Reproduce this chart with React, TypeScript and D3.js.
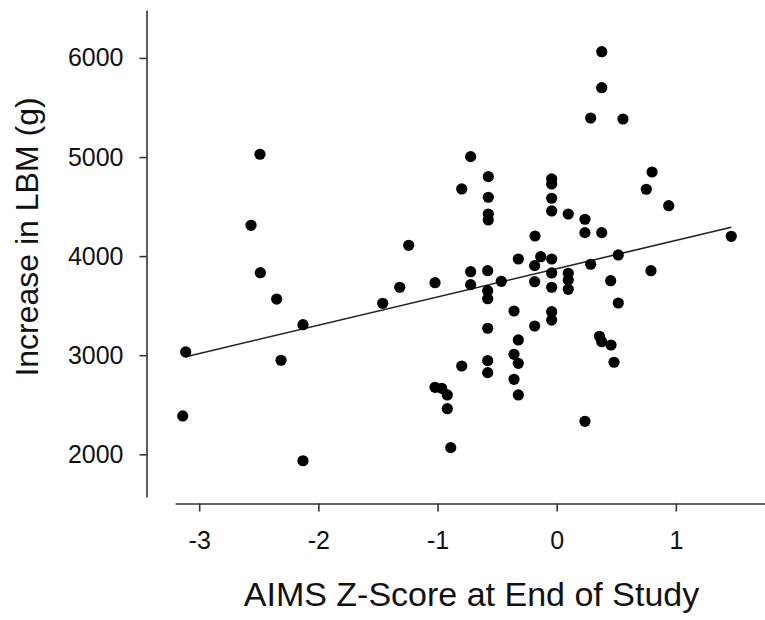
import React, { useEffect, useRef } from "react";
import * as d3 from "d3";

// AIMS z-score at end of study (x) and increase in lean body mass in g (y)
const aimsZ = [
  -2.49, -2.565, -1.242, 0.378, 0.378, 0.285, 0.556, -0.722, -0.574, -0.797,
  -0.574, -0.574, -0.574, -0.042, -0.042, -0.042, -0.042, 0.097, 0.8, 0.752,
  0.94, 0.237, 0.237, 0.378, -0.182, 1.465, -0.322, -0.134, -0.042, -0.185,
  -0.722, -0.579, -0.722, -0.465, -0.579, -0.579, -0.185, -0.042, -0.042, 0.097,
  0.097, 0.097, 0.285, 0.517, 0.453, 0.517, 0.791, -0.358, -0.042, -0.042,
  -0.185, -0.579, -0.322, 0.359, 0.378, 0.456, 0.481, -0.797, -0.579, -0.579,
  -0.358, -0.322, -0.358, -0.322, -1.021, -0.965, -0.918, -0.918, -0.889, 0.237,
  -2.487, -2.35, -2.129, -1.46, -1.317, -1.021, -3.113, -2.313, -3.138, -2.129,
];
const lbmIncrease = [
  5028, 4311, 4109, 6063, 5700, 5394, 5384, 5004, 4802, 4678,
  4594, 4425, 4365, 4779, 4728, 4584, 4456, 4425, 4849, 4675,
  4509, 4372, 4237, 4237, 4203, 4200, 3971, 3994, 3971, 3904,
  3843, 3853, 3712, 3746, 3651, 3570, 3742, 3830, 3686, 3827,
  3759, 3665, 3918, 4012, 3752, 3527, 3853, 3446, 3439, 3355,
  3295, 3272, 3154, 3191, 3136, 3103, 2929, 2891, 2945, 2824,
  3009, 2918, 2757, 2599, 2676, 2666, 2599, 2460, 2067, 2333,
  3833, 3567, 3308, 3524, 3686, 3732, 3033, 2949, 2387, 1935,
];
// fitted line as drawn in the figure
const fitSlope = 285.3;
const fitIntercept = 3873;
const fitRange = [-3.12, 1.465];

const xTicks = [-3, -2, -1, 0, 1];
const yTicks = [2000, 3000, 4000, 5000, 6000];

const width = 765;
const height = 620;
const font = "'Liberation Sans', Arial, sans-serif";

export default function App() {
  const ref = useRef<SVGSVGElement>(null);

  useEffect(() => {
    const svg = d3.select(ref.current);
    svg.selectAll("*").remove();

    const x = d3.scaleLinear().domain([-3.203, 1.748]).range([175, 765]);
    const y = d3.scaleLinear().domain([1569, 6484]).range([497, 10]);

    // x axis
    const gx = svg
      .append("g")
      .attr("transform", `translate(0,503.5)`)
      .call(
        d3
          .axisBottom(x)
          .tickValues(xTicks)
          .tickSizeInner(8)
          .tickSizeOuter(0)
          .tickPadding(20)
          .tickFormat(d3.format("d"))
      );
    gx.select(".domain").attr("stroke", "#333").attr("stroke-width", 1.6);
    gx.selectAll(".tick line").attr("stroke", "#333").attr("stroke-width", 1.6);
    gx.selectAll(".tick text")
      .attr("font-family", font)
      .attr("font-size", 25)
      .attr("fill", "#111")
      .text((d: any) => (d < 0 ? "-" + Math.abs(d) : String(d)));

    // y axis
    const gy = svg
      .append("g")
      .attr("transform", `translate(146.5,0)`)
      .call(
        d3
          .axisLeft(y)
          .tickValues(yTicks)
          .tickSizeInner(7)
          .tickSizeOuter(0)
          .tickPadding(16)
          .tickFormat(d3.format("d"))
      );
    gy.select(".domain").attr("stroke", "#333").attr("stroke-width", 1.6);
    gy.selectAll(".tick line").attr("stroke", "#333").attr("stroke-width", 1.6);
    gy.selectAll(".tick text")
      .attr("font-family", font)
      .attr("font-size", 25)
      .attr("fill", "#111");

    // regression line
    const line = d3
      .line<number>()
      .x((d) => x(d))
      .y((d) => y(fitIntercept + fitSlope * d));
    svg
      .append("path")
      .attr("d", line(fitRange))
      .attr("fill", "none")
      .attr("stroke", "#222")
      .attr("stroke-width", 1.6);

    // points
    svg
      .append("g")
      .selectAll("circle")
      .data(d3.range(aimsZ.length))
      .join("circle")
      .attr("cx", (i) => x(aimsZ[i]))
      .attr("cy", (i) => y(lbmIncrease[i]))
      .attr("r", 5.6)
      .attr("fill", "#000");

    // axis titles
    svg
      .append("text")
      .attr("x", 471.5)
      .attr("y", 605.5)
      .attr("text-anchor", "middle")
      .attr("font-family", font)
      .attr("font-size", 34)
      .attr("fill", "#111")
      .text("AIMS Z-Score at End of Study");

    svg
      .append("text")
      .attr("transform", "translate(38,237) rotate(-90)")
      .attr("text-anchor", "middle")
      .attr("font-family", font)
      .attr("font-size", 32)
      .attr("fill", "#111")
      .text("Increase in LBM (g)");
  }, []);

  return (
    <div style={{ position: "absolute", left: 0, top: 0 }}>
      <svg ref={ref} width={width} height={height} style={{ display: "block", background: "#fff" }} />
    </div>
  );
}
